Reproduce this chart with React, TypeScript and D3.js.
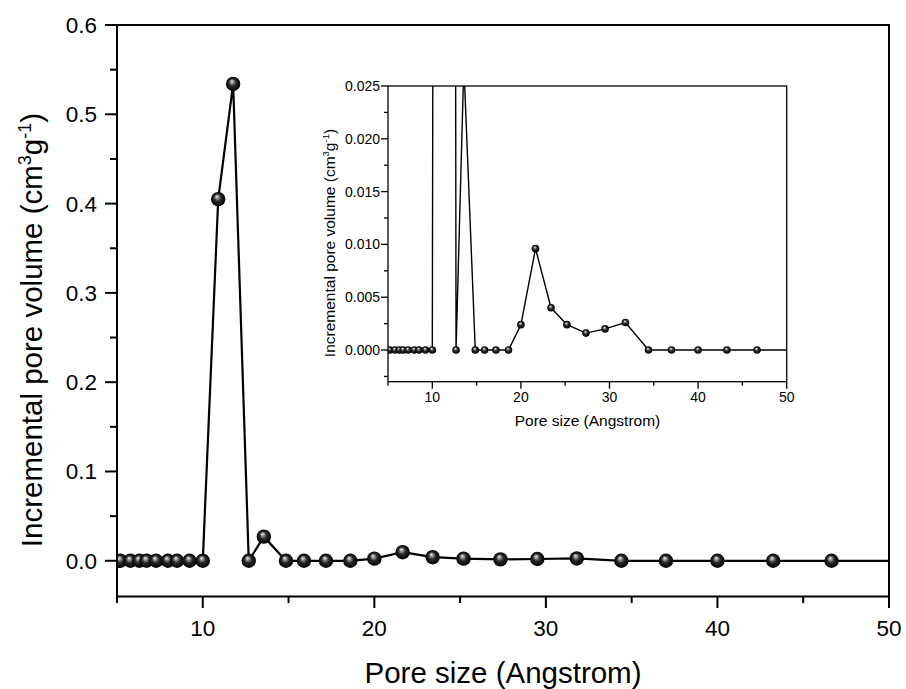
import React from "react";
import * as d3 from "d3";

const poreSize = [5.2, 5.78, 6.3, 6.72, 7.28, 7.97, 8.5, 9.23, 10.0, 10.9, 11.77, 12.68, 13.56, 14.85, 15.9, 17.18, 18.6, 20.0, 21.65, 23.4, 25.2, 27.35, 29.5, 31.8, 34.4, 37.0, 40.0, 43.25, 46.65, 50.8];
const poreVolume = [0, 0, 0, 0, 0, 0, 0, 0, 0, 0.405, 0.534, 0, 0.027, 0, 0, 0, 0, 0.0024, 0.0096, 0.004, 0.0024, 0.0016, 0.002, 0.0026, 0, 0, 0, 0, 0, 0];

const mainXTicks = [10, 20, 30, 40, 50];
const mainXMinor = [5, 15, 25, 35, 45];
const mainYTicks = [0, 0.1, 0.2, 0.3, 0.4, 0.5, 0.6];
const mainYMinor = [0.05, 0.15, 0.25, 0.35, 0.45, 0.55];
const insetYTicks = [0, 0.005, 0.01, 0.015, 0.02, 0.025];
const insetYMinor = [-0.0025, 0.0025, 0.0075, 0.0125, 0.0175, 0.0225];

const FONT = "'Liberation Sans', Arial, sans-serif";

const pts = poreSize.map((x, i) => ({ x, y: poreVolume[i] }));

export default function App() {
  const W = 906, H = 689;
  const xM = d3.scaleLinear().domain([5, 50]).range([117, 889]);
  const yM = d3.scaleLinear().domain([-0.04, 0.6]).range([596.5, 25]);
  const xI = d3.scaleLinear().domain([5, 50]).range([388, 786.7]);
  const yI = d3.scaleLinear().domain([-0.003, 0.025]).range([381.7, 86]);

  const lineM = d3.line<{ x: number; y: number }>().x(d => xM(d.x)).y(d => yM(d.y));
  const lineI = d3.line<{ x: number; y: number }>().x(d => xI(d.x)).y(d => yI(d.y));
  const f1 = d3.format(".1f");
  const f3 = d3.format(".3f");

  return (
    <svg width={W} height={H} style={{ position: "absolute", left: 0, top: 0, background: "#fff" }} fontFamily={FONT}>
      <defs>
        <radialGradient id="sphere" cx="0.5" cy="0.5" r="0.5" fx="0.4" fy="0.3">
          <stop offset="0%" stopColor="#f4f4f4" />
          <stop offset="18%" stopColor="#a8a8a8" />
          <stop offset="50%" stopColor="#2a2a2a" />
          <stop offset="100%" stopColor="#000" />
        </radialGradient>
        <clipPath id="clipM">
          <rect x={xM(5)} y={yM(0.6)} width={xM(50) - xM(5)} height={yM(-0.04) - yM(0.6)} />
        </clipPath>
        <clipPath id="clipI">
          <rect x={xI(5)} y={yI(0.025)} width={xI(50) - xI(5)} height={yI(-0.003) - yI(0.025)} />
        </clipPath>
      </defs>

      {/* main data */}
      <g clipPath="url(#clipM)">
        <path d={lineM(pts) || ""} fill="none" stroke="#000" strokeWidth={2.2} />
        {pts.map((d, i) => (
          <circle key={i} cx={xM(d.x)} cy={yM(d.y)} r={7.2} fill="url(#sphere)" />
        ))}
      </g>

      {/* main frame */}
      <rect x={xM(5)} y={yM(0.6)} width={xM(50) - xM(5)} height={yM(-0.04) - yM(0.6)} fill="none" stroke="#000" strokeWidth={2} />
      {mainXTicks.map(t => (
        <g key={"mx" + t}>
          <line x1={xM(t)} x2={xM(t)} y1={yM(-0.04)} y2={yM(-0.04) + 11.5} stroke="#000" strokeWidth={2} />
          <text x={xM(t)} y={636} fontSize={22.5} textAnchor="middle">{t}</text>
        </g>
      ))}
      {mainXMinor.map(t => (
        <line key={"mxm" + t} x1={xM(t)} x2={xM(t)} y1={yM(-0.04)} y2={yM(-0.04) + 6.5} stroke="#000" strokeWidth={2} />
      ))}
      {mainYTicks.map(t => (
        <g key={"my" + t}>
          <line x1={xM(5) - 12} x2={xM(5)} y1={yM(t)} y2={yM(t)} stroke="#000" strokeWidth={2} />
          <text x={97} y={yM(t) + 8} fontSize={22.5} textAnchor="end">{f1(t)}</text>
        </g>
      ))}
      {mainYMinor.map(t => (
        <line key={"mym" + t} x1={xM(5) - 7} x2={xM(5)} y1={yM(t)} y2={yM(t)} stroke="#000" strokeWidth={2} />
      ))}
      <text x={503} y={683} fontSize={29.5} textAnchor="middle">Pore size (Angstrom)</text>
      <text transform="translate(42,330) rotate(-90)" fontSize={29.5} textAnchor="middle">
        Incremental pore volume (cm<tspan dy={-11} fontSize={18}>3</tspan><tspan dy={11}>g</tspan><tspan dy={-11} fontSize={18}>-1</tspan><tspan dy={11}>)</tspan>
      </text>

      {/* inset */}
      <rect x={xI(5)} y={yI(0.025)} width={xI(50) - xI(5)} height={yI(-0.003) - yI(0.025)} fill="#fff" />
      <g clipPath="url(#clipI)">
        <path d={lineI(pts) || ""} fill="none" stroke="#000" strokeWidth={1.4} />
        {pts.map((d, i) => (
          <circle key={i} cx={xI(d.x)} cy={yI(d.y)} r={3.8} fill="url(#sphere)" />
        ))}
      </g>
      <rect x={xI(5)} y={yI(0.025)} width={xI(50) - xI(5)} height={yI(-0.003) - yI(0.025)} fill="none" stroke="#000" strokeWidth={1.3} />
      {mainXTicks.map(t => (
        <g key={"ix" + t}>
          <line x1={xI(t)} x2={xI(t)} y1={yI(-0.003)} y2={yI(-0.003) + 7} stroke="#000" strokeWidth={1.3} />
          <text x={xI(t)} y={401.7} fontSize={14} textAnchor="middle">{t}</text>
        </g>
      ))}
      {mainXMinor.map(t => (
        <line key={"ixm" + t} x1={xI(t)} x2={xI(t)} y1={yI(-0.003)} y2={yI(-0.003) + 4} stroke="#000" strokeWidth={1.3} />
      ))}
      {insetYTicks.map(t => (
        <g key={"iy" + t}>
          <line x1={xI(5) - 7} x2={xI(5)} y1={yI(t)} y2={yI(t)} stroke="#000" strokeWidth={1.3} />
          <text x={380} y={yI(t) + 5} fontSize={14} textAnchor="end">{f3(t)}</text>
        </g>
      ))}
      {insetYMinor.map(t => (
        <line key={"iym" + t} x1={xI(5) - 4} x2={xI(5)} y1={yI(t)} y2={yI(t)} stroke="#000" strokeWidth={1.3} />
      ))}
      <text x={587.5} y={426} fontSize={15.5} textAnchor="middle">Pore size (Angstrom)</text>
      <text transform="translate(335,243) rotate(-90)" fontSize={15.5} textAnchor="middle">
        Incremental pore volume (cm<tspan dy={-6} fontSize={9.5}>3</tspan><tspan dy={6}>g</tspan><tspan dy={-6} fontSize={9.5}>-1</tspan><tspan dy={6}>)</tspan>
      </text>
    </svg>
  );
}
